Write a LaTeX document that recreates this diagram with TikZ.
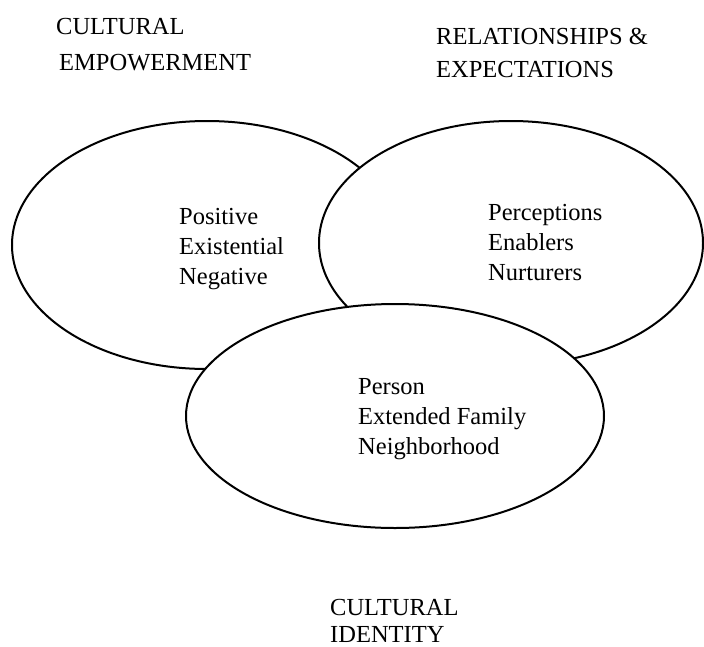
\documentclass[tikz,border=0pt]{standalone}
\usepackage{fontspec}
\setmainfont{Liberation Serif}
\usetikzlibrary{shapes.geometric}
\tikzset{
  circlebox/.style={ellipse, draw=black, line width=2pt, fill=white, inner sep=0pt},
  listtext/.style={anchor=base west, align=left, inner sep=0pt,
    font=\fontsize{24.5}{29.7}\selectfont},
  headtext/.style={anchor=base west, align=left, inner sep=0pt,
    font=\fontsize{24.5}{36}\selectfont}
}
\begin{document}
\begin{tikzpicture}[x=1pt, y=-1pt]
  \useasboundingbox (0,0) rectangle (704,646);
  % three overlapping domains, back to front
  \node[circlebox, minimum width=390pt, minimum height=248pt] (empower) at (207,245) {};
  \node[circlebox, minimum width=384pt, minimum height=244pt] (relate) at (511,243) {};
  \node[circlebox, minimum width=418pt, minimum height=224pt] (ident) at (395,416) {};
  % contents of each domain (anchored at the last line's baseline)
  \node[listtext] (empowerlist) at (179,284) {Positive\\Existential\\Negative};
  \node[listtext] (relatelist) at (488,280) {Perceptions\\Enablers\\Nurturers};
  \node[listtext] (identlist) at (358,454) {Person\\Extended Family\\Neighborhood};
  % domain titles
  \node[headtext] (empowerhead) at (56,70) {CULTURAL\\\hspace*{3pt}EMPOWERMENT};
  \node[headtext, font=\fontsize{24.5}{33}\selectfont] (relatehead) at (436,77) {RELATIONSHIPS \&\\EXPECTATIONS};
  \node[listtext, font=\fontsize{24.5}{27}\selectfont] (identhead) at (330,642) {CULTURAL\\IDENTITY};
\end{tikzpicture}
\end{document}
